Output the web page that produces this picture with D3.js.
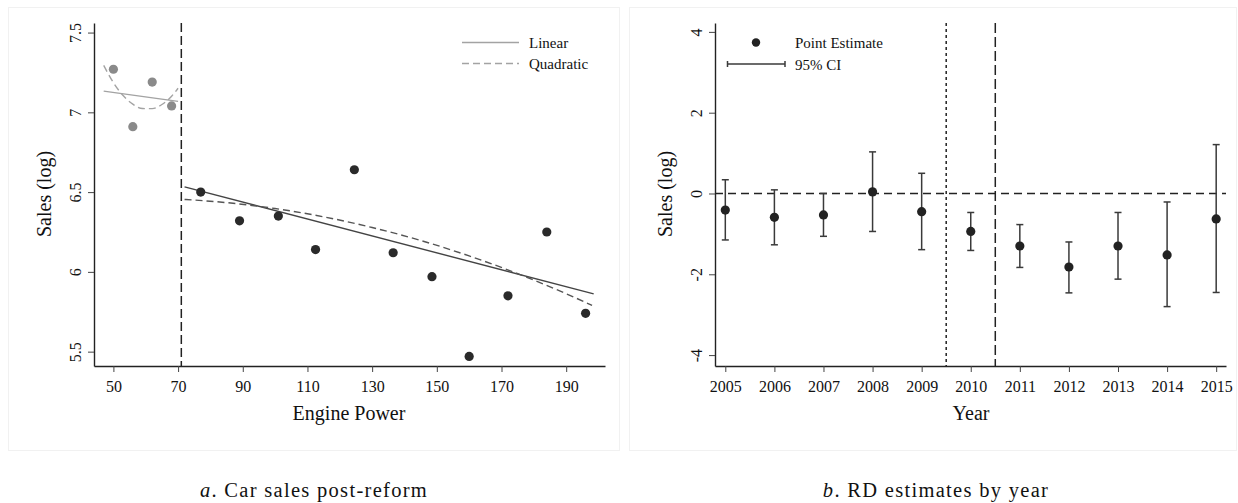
<!DOCTYPE html>
<html>
<head>
<meta charset="utf-8">
<script src="https://cdn.jsdelivr.net/npm/d3@7"></script>
<style>
  body { margin: 0; background: #fff; }
  svg { display: block; font-family: "Liberation Serif", "Times New Roman", serif; }
  .tick text { font-size: 16px; fill: #111; font-family: "Liberation Serif", serif; }
  .axis-title { font-size: 20px; fill: #111; }
  .legend-text { font-size: 15px; fill: #111; }
  .caption { font-size: 20.5px; fill: #111; letter-spacing: 1.3px; font-family: "Liberation Serif", serif; }
</style>
</head>
<body>
<svg id="chart" width="1238" height="503"></svg>
<script>
// ---- panel a: binned car sales around the engine-power cutoff
var cutoff = 71;
var binsLeft = [50, 56, 62, 68];
var salesLeft = [7.27, 6.91, 7.19, 7.04];
var binsRight = [77, 89, 101, 112.5, 124.5, 136.5, 148.5, 160, 172, 184, 196];
var salesRight = [6.50, 6.32, 6.35, 6.14, 6.64, 6.12, 5.97, 5.47, 5.85, 6.25, 5.74];

// fitted lines
var linLeftX = [47, 70];
var linLeftY = [7.133, 7.069];
var quadLeftX = [47, 50, 53, 56, 59, 62, 65, 68, 70];
var quadLeftY = [7.294, 7.186, 7.105, 7.051, 7.024, 7.023, 7.049, 7.101, 7.151];
var linRightX = [72, 198.5];
var linRightY = [6.533, 5.862];
var quadRightX = [72, 85, 100, 115, 130, 145, 160, 175, 190, 198];
var quadRightY = [6.454, 6.434, 6.397, 6.345, 6.278, 6.197, 6.100, 5.989, 5.863, 5.790];

var powerTicks = [50, 70, 90, 110, 130, 150, 170, 190];
var salesTicks = [5.5, 6, 6.5, 7, 7.5];

// ---- panel b: RD estimates by year
var years = [2005, 2006, 2007, 2008, 2009, 2010, 2011, 2012, 2013, 2014, 2015];
var estimate = [-0.41, -0.59, -0.53, 0.04, -0.45, -0.94, -1.30, -1.82, -1.30, -1.52, -0.63];
var ciLow = [-1.15, -1.27, -1.06, -0.94, -1.39, -1.41, -1.83, -2.46, -2.12, -2.80, -2.45];
var ciHigh = [0.34, 0.09, 0.00, 1.03, 0.50, -0.47, -0.77, -1.20, -0.47, -0.21, 1.21];
var rdTicks = [-4, -2, 0, 2, 4];
var reformLines = [2009.5, 2010.5];

var svg = d3.select("#chart");

// faint panel frames
svg.append("rect").attr("x", 8.5).attr("y", 7.5).attr("width", 611).attr("height", 443)
  .attr("fill", "none").attr("stroke", "#f1f1f1");
svg.append("rect").attr("x", 629.5).attr("y", 7.5).attr("width", 607).attr("height", 443)
  .attr("fill", "none").attr("stroke", "#f1f1f1");

function plain(d) { return String(d); } // ascii hyphen for negatives, like the original

function styleAxis(g) {
  g.attr("font-family", null).attr("font-size", null);
  g.select(".domain").attr("stroke", "#222").attr("stroke-width", 1.4);
  g.selectAll(".tick line").attr("stroke", "#444").attr("stroke-width", 1);
}

function drawYAxis(g, y, ticks, x0) {
  var ax = g.append("g")
    .attr("transform", "translate(" + x0 + ",0)")
    .call(d3.axisLeft(y).tickValues(ticks).tickSize(6).tickSizeOuter(0).tickFormat(plain));
  styleAxis(ax);
  ax.selectAll(".tick text")
    .attr("x", 0).attr("dy", 0)
    .attr("transform", "translate(-13,0) rotate(-90)")
    .attr("text-anchor", "middle");
  return ax;
}

/////////// panel a
(function () {
  var x = d3.scaleLinear().domain([44, 202]).range([94, 605]);
  var y = d3.scaleLinear().domain([5.41, 7.56]).range([366, 23]);
  var g = svg.append("g");

  // cutoff line
  g.append("line")
    .attr("x1", x(cutoff)).attr("x2", x(cutoff))
    .attr("y1", y.range()[1]).attr("y2", y.range()[0])
    .attr("stroke", "#222").attr("stroke-width", 1.5).attr("stroke-dasharray", "9,4");

  var line = d3.line().x(d => x(d[0])).y(d => y(d[1]));
  var curve = d3.line().x(d => x(d[0])).y(d => y(d[1])).curve(d3.curveMonotoneX);

  g.append("path").attr("d", line(d3.zip(linLeftX, linLeftY)))
    .attr("fill", "none").attr("stroke", "#a3a3a3").attr("stroke-width", 1.4);
  g.append("path").attr("d", curve(d3.zip(quadLeftX, quadLeftY)))
    .attr("fill", "none").attr("stroke", "#a3a3a3").attr("stroke-width", 1.4)
    .attr("stroke-dasharray", "7,4");
  g.append("path").attr("d", line(d3.zip(linRightX, linRightY)))
    .attr("fill", "none").attr("stroke", "#444").attr("stroke-width", 1.4);
  g.append("path").attr("d", curve(d3.zip(quadRightX, quadRightY)))
    .attr("fill", "none").attr("stroke", "#555").attr("stroke-width", 1.4)
    .attr("stroke-dasharray", "7,4");

  g.selectAll(".ptL").data(d3.zip(binsLeft, salesLeft)).enter().append("circle")
    .attr("cx", d => x(d[0])).attr("cy", d => y(d[1])).attr("r", 4.6).attr("fill", "#8a8a8a");
  g.selectAll(".ptR").data(d3.zip(binsRight, salesRight)).enter().append("circle")
    .attr("cx", d => x(d[0])).attr("cy", d => y(d[1])).attr("r", 4.6).attr("fill", "#2a2a2a");

  var xa = g.append("g").attr("transform", "translate(0,366)")
    .call(d3.axisBottom(x).tickValues(powerTicks).tickSize(6).tickSizeOuter(0).tickFormat(plain));
  styleAxis(xa);
  xa.selectAll(".tick text").attr("dy", "1.05em");
  drawYAxis(g, y, salesTicks, 94);

  g.append("text").attr("class", "axis-title").attr("text-anchor", "middle")
    .attr("x", 349).attr("y", 420).text("Engine Power");
  g.append("text").attr("class", "axis-title").attr("text-anchor", "middle")
    .attr("transform", "translate(51,194) rotate(-90)").text("Sales (log)");

  // legend
  var lg = g.append("g");
  [["Linear", null], ["Quadratic", "7,4"]].forEach(function (it, i) {
    var yy = 42.5 + i * 21;
    lg.append("line").attr("x1", 462).attr("x2", 519).attr("y1", yy).attr("y2", yy)
      .attr("stroke", "#a3a3a3").attr("stroke-width", 1.4)
      .attr("stroke-dasharray", it[1]);
    lg.append("text").attr("class", "legend-text").attr("x", 529).attr("y", yy + 5).text(it[0]);
  });

  var cap = svg.append("text").attr("class", "caption").attr("text-anchor", "middle")
    .attr("x", 314).attr("y", 497);
  cap.append("tspan").attr("font-style", "italic").text("a");
  cap.append("tspan").text(". Car sales post-reform");
})();

/////////// panel b
(function () {
  var x = d3.scaleLinear().domain([2004.79, 2015.2]).range([715, 1226]);
  var y = d3.scaleLinear().domain([-4.27, 4.22]).range([366, 23]);
  var g = svg.append("g");

  g.append("line").attr("x1", x.range()[0]).attr("x2", x.range()[1])
    .attr("y1", y(0)).attr("y2", y(0))
    .attr("stroke", "#222").attr("stroke-width", 1.5).attr("stroke-dasharray", "8,5");
  g.append("line").attr("x1", x(reformLines[0])).attr("x2", x(reformLines[0]))
    .attr("y1", y.range()[1]).attr("y2", y.range()[0])
    .attr("stroke", "#222").attr("stroke-width", 1.5).attr("stroke-dasharray", "3,3");
  g.append("line").attr("x1", x(reformLines[1])).attr("x2", x(reformLines[1]))
    .attr("y1", y.range()[1]).attr("y2", y.range()[0])
    .attr("stroke", "#222").attr("stroke-width", 1.5).attr("stroke-dasharray", "10,4");

  var rows = years.map((yr, i) => ({ yr: yr, est: estimate[i], lo: ciLow[i], hi: ciHigh[i] }));
  var cap = 3.5;
  var ci = g.selectAll(".ci").data(rows).enter().append("g").attr("class", "ci")
    .attr("stroke", "#3a3a3a").attr("stroke-width", 1.5);
  ci.append("line").attr("x1", d => x(d.yr)).attr("x2", d => x(d.yr))
    .attr("y1", d => y(d.lo)).attr("y2", d => y(d.hi));
  ci.append("line").attr("x1", d => x(d.yr) - cap).attr("x2", d => x(d.yr) + cap)
    .attr("y1", d => y(d.lo)).attr("y2", d => y(d.lo));
  ci.append("line").attr("x1", d => x(d.yr) - cap).attr("x2", d => x(d.yr) + cap)
    .attr("y1", d => y(d.hi)).attr("y2", d => y(d.hi));
  g.selectAll(".est").data(rows).enter().append("circle")
    .attr("cx", d => x(d.yr)).attr("cy", d => y(d.est)).attr("r", 4.6).attr("fill", "#222");

  var xa = g.append("g").attr("transform", "translate(0,366)")
    .call(d3.axisBottom(x).tickValues(years).tickSize(6).tickSizeOuter(0).tickFormat(plain));
  styleAxis(xa);
  xa.selectAll(".tick text").attr("dy", "1.05em");
  drawYAxis(g, y, rdTicks, 715);

  g.append("text").attr("class", "axis-title").attr("text-anchor", "middle")
    .attr("x", 971).attr("y", 420).text("Year");
  g.append("text").attr("class", "axis-title").attr("text-anchor", "middle")
    .attr("transform", "translate(672,194) rotate(-90)").text("Sales (log)");

  // legend
  g.append("circle").attr("cx", 756).attr("cy", 42.5).attr("r", 4.2).attr("fill", "#222");
  g.append("text").attr("class", "legend-text").attr("x", 795).attr("y", 48).text("Point Estimate");
  var lc = g.append("g").attr("stroke", "#3a3a3a").attr("stroke-width", 1.5);
  lc.append("line").attr("x1", 727.5).attr("x2", 785).attr("y1", 64).attr("y2", 64);
  lc.append("line").attr("x1", 727.5).attr("x2", 727.5).attr("y1", 61).attr("y2", 67);
  lc.append("line").attr("x1", 785).attr("x2", 785).attr("y1", 61).attr("y2", 67);
  g.append("text").attr("class", "legend-text").attr("x", 795).attr("y", 70).text("95% CI");

  var capT = svg.append("text").attr("class", "caption").attr("text-anchor", "middle")
    .attr("x", 936).attr("y", 497);
  capT.append("tspan").attr("font-style", "italic").text("b");
  capT.append("tspan").text(". RD estimates by year");
})();
</script>
</body>
</html>
